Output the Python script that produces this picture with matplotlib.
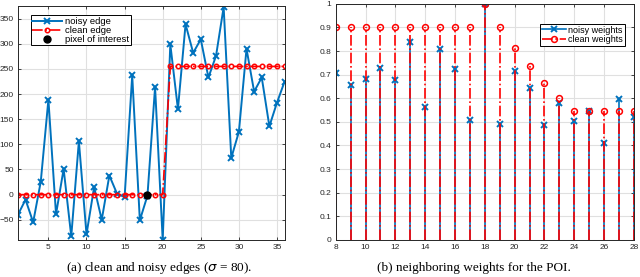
import matplotlib.pyplot as plt
import numpy as np

# (a) edge profile
pos = np.arange(1, 37)
noisy_edge = [-40, -10, -55, 26, 189, -39, 51, -83, 106, -79,
              15, -50, 38, 2, -5, 237, -51, -2, 214, -90,
              299, 170, 339, 282, 309, 233, 276, 373, 73, 125,
              290, 205, 233, 136, 183, 225]
clean_edge = [0] * 20 + [255] * 16
poi_x, poi_y = 18, 0

# (b) neighbouring weights
wpos = np.arange(8, 29)
noisy_w = [0.705, 0.657, 0.68, 0.729, 0.678, 0.838, 0.564, 0.807, 0.726, 0.506,
           1.0, 0.493, 0.714, 0.645, 0.487, 0.58, 0.502, 0.548, 0.41, 0.598, 0.521]
clean_w = [0.9, 0.9, 0.9, 0.9, 0.9, 0.9, 0.9, 0.9, 0.9, 0.9,
           1.0, 0.9, 0.815, 0.736, 0.664, 0.6, 0.545, 0.545, 0.545, 0.545, 0.545]

blue = '#0072BD'
plt.rcParams['font.family'] = 'Liberation Sans'
plt.rcParams['font.size'] = 6

fig = plt.figure(figsize=(6.4, 2.77), dpi=100)
ax1 = fig.add_axes([0.028, 0.134, 0.4167, 0.844])
ax2 = fig.add_axes([0.5245, 0.134, 0.4661, 0.852])

def matlab_style(ax):
    ax.grid(True, color='#e0e0e0', linewidth=0.8)
    ax.set_axisbelow(True)
    ax.tick_params(direction='in', top=True, right=True, length=2.5,
                   width=0.6, colors='#262626', pad=3, labelsize=6)
    for s in ax.spines.values():
        s.set_color('#262626')
        s.set_linewidth(0.7)

ax1.plot(pos, noisy_edge, '-x', color=blue, lw=1.4, ms=4.5, mew=1.4, label='noisy edge')
ax1.plot(pos, clean_edge, '-.o', color='red', lw=1.2, ms=3.2, mew=1.1,
         mfc='none', label='clean edge')
ax1.plot(poi_x, poi_y, 'o', color='black', ms=5, ls='none', label='pixel of interest')
ax1.set_xlim(1, 36)
ax1.set_ylim(-90, 375)
ax1.set_xticks(range(5, 36, 5))
ax1.set_yticks(range(-50, 351, 50))
matlab_style(ax1)
leg = ax1.legend(loc='upper left', bbox_to_anchor=(0.03, 0.98), fancybox=False,
                 edgecolor='black', framealpha=1, handlelength=3.2,
                 borderpad=0.15, labelspacing=0.0, handletextpad=0.3, fontsize=6.8)
leg.get_frame().set_linewidth(0.7)

ax2.vlines(wpos, 0, noisy_w, color=blue, lw=1.2)
ax2.plot(wpos, noisy_w, 'x', color=blue, ms=4.5, mew=1.4)
ax2.vlines(wpos, 0, clean_w, color='red', lw=1.2, linestyles='-.')
ax2.plot(wpos, clean_w, 'o', color='red', ms=4.2, mew=1.1, mfc='none')
h1, = ax2.plot([], [], '-x', color=blue, lw=1.2, ms=4.5, mew=1.4)
h2, = ax2.plot([], [], '-.o', color='red', lw=1.2, ms=4.2, mew=1.1, mfc='none')
ax2.set_xlim(8, 28)
ax2.set_ylim(0, 1)
ax2.set_xticks(range(8, 29, 2))
ax2.set_yticks(np.arange(0, 1.01, 0.1))
ax2.set_yticklabels(['0', '0.1', '0.2', '0.3', '0.4', '0.5', '0.6', '0.7', '0.8', '0.9', '1'])
matlab_style(ax2)
leg2 = ax2.legend([h1, h2], ['noisy weights', 'clean weights'], loc='upper right',
                  bbox_to_anchor=(0.985, 0.935), fancybox=False, edgecolor='black',
                  framealpha=1, handlelength=2.6, borderpad=0.2, labelspacing=0.05,
                  handletextpad=0.3, fontsize=6.5)
leg2.get_frame().set_linewidth(0.7)

fig.text(0.248, 0.022, r'(a) clean and noisy edges ($\sigma$ = 80).', ha='center',
         family='Liberation Serif', fontsize=9.5)
fig.text(0.741, 0.022, '(b) neighboring weights for the POI.', ha='center',
         family='Liberation Serif', fontsize=9.5)

plt.savefig('out.png', dpi=100)
